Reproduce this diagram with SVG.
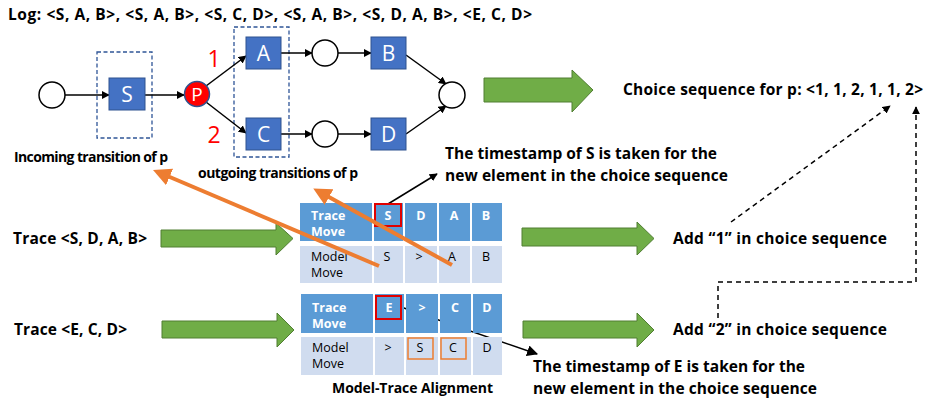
<svg xmlns="http://www.w3.org/2000/svg" width="928" height="402" viewBox="0 0 928 402">
<defs>
<style>
.t{font-family:"Open Sans","Liberation Sans",sans-serif;font-weight:bold;fill:#000}
.b{font-size:15.5px}
.s{font-size:14px}
.node{fill:#4472C4;stroke:#2F528F;stroke-width:1}
.nt{font-family:"Open Sans","Liberation Sans",sans-serif;font-size:21px;fill:#fff;text-anchor:middle}
.pl{fill:#fff;stroke:#000;stroke-width:1.5}
.dash{fill:none;stroke:#2F5597;stroke-width:1.3;stroke-dasharray:4 2.5}
.e{stroke:#000;stroke-width:1.5;fill:none}
.or{stroke:#ED7D31;stroke-width:4;fill:none}
.dd{stroke:#000;stroke-width:1.5;fill:none;stroke-dasharray:5 4}
.tr{fill:#5B9BD5}
.mr{fill:#D0DCEF}
.ct{font-family:"Open Sans","Liberation Sans",sans-serif;font-size:12.5px}
.cw{fill:#fff;font-weight:bold}
.ck{fill:#000}
.ga{fill:#70AD47;stroke:#507E32;stroke-width:1}
.red{font-family:"Open Sans","Liberation Sans",sans-serif;font-size:23px;fill:#FF0000;text-anchor:middle}
</style>
<marker id="ah" viewBox="0 0 10 10" refX="9" refY="5" markerWidth="8" markerHeight="8" markerUnits="userSpaceOnUse" orient="auto"><path d="M0,0 L10,5 L0,10 z" fill="#000"/></marker>
<marker id="ahs" viewBox="0 0 10 10" refX="9" refY="5" markerWidth="11" markerHeight="11" markerUnits="userSpaceOnUse" orient="auto"><path d="M0,0 L10,5 L0,10 z" fill="#000"/></marker>
<marker id="oh" viewBox="0 0 10 10" refX="7" refY="5" markerWidth="4.5" markerHeight="4.5" orient="auto"><path d="M0,0 L10,5 L0,10 z" fill="#ED7D31"/></marker>
</defs>
<rect width="928" height="402" fill="#fff"/>

<text class="t b" x="8" y="20" textLength="524">Log: &lt;S, A, B&gt;, &lt;S, A, B&gt;, &lt;S, C, D&gt;, &lt;S, A, B&gt;, &lt;S, D, A, B&gt;, &lt;E, C, D&gt;</text>

<!-- dashed groupings -->
<rect class="dash" x="97" y="52" width="55" height="86"/>
<rect class="dash" x="234" y="27" width="55" height="130"/>

<g id="connectors">
<line class="e" x1="65" y1="95" x2="109" y2="95" marker-end="url(#ah)"/>
<line class="e" x1="145" y1="95" x2="184" y2="95" marker-end="url(#ah)"/>
<line class="e" x1="206" y1="86" x2="246" y2="56" marker-end="url(#ah)"/>
<line class="e" x1="206" y1="102" x2="246" y2="133" marker-end="url(#ah)"/>
<line class="e" x1="281" y1="53" x2="312" y2="53" marker-end="url(#ah)"/>
<line class="e" x1="338" y1="53" x2="371" y2="53" marker-end="url(#ah)"/>
<line class="e" x1="281" y1="134" x2="312" y2="134" marker-end="url(#ah)"/>
<line class="e" x1="338" y1="134" x2="371" y2="134" marker-end="url(#ah)"/>
<line class="e" x1="406" y1="55" x2="446" y2="84" marker-end="url(#ah)"/>
<line class="e" x1="406" y1="134" x2="446" y2="106" marker-end="url(#ah)"/>
<line class="e" x1="388" y1="204" x2="437" y2="174" marker-end="url(#ah)"/>
<line class="e" x1="401" y1="307" x2="537" y2="354" marker-end="url(#ahs)"/>
<line class="dd" x1="731" y1="222" x2="890" y2="106" marker-end="url(#ah)"/>
<polyline class="dd" points="718,318 718,282 916,282 916,107" marker-end="url(#ah)"/>
</g>

<g id="p_start"><circle class="pl" cx="52" cy="95" r="13"/></g>
<g id="t_S"><rect class="node" x="109" y="78" width="36" height="32"/><text class="nt" x="127" y="101.5">S</text></g>
<g id="p_P"><circle cx="197" cy="94" r="12.5" fill="#FF0000" stroke="#2F528F" stroke-width="1.5"/><text x="197" y="101" text-anchor="middle" font-family="Open Sans,Liberation Sans,sans-serif" font-size="19" fill="#fff">P</text></g>
<g id="t_A"><rect class="node" x="246" y="37" width="35" height="32"/><text class="nt" x="263.5" y="60.5">A</text></g>
<g id="t_C"><rect class="node" x="246" y="118" width="35" height="32"/><text class="nt" x="263.5" y="141.5">C</text></g>
<g id="p_A"><circle class="pl" cx="325" cy="53" r="13"/></g>
<g id="p_C"><circle class="pl" cx="325" cy="134" r="13"/></g>
<g id="t_B"><rect class="node" x="371" y="37" width="35" height="32"/><text class="nt" x="388.5" y="60.5">B</text></g>
<g id="t_D"><rect class="node" x="371" y="118" width="35" height="32"/><text class="nt" x="388.5" y="141.5">D</text></g>
<g id="p_end"><circle class="pl" cx="452" cy="95" r="13"/></g>

<text class="red" x="214" y="67">1</text>
<text class="red" x="214" y="143">2</text>

<text class="t s" x="14" y="162" textLength="154">Incoming transition of p</text>
<text class="t s" x="198" y="178" textLength="160">outgoing transitions of p</text>

<!-- green arrows -->
<g id="ga_top"><path class="ga" d="M484,78 H572 V70 L593,90 L572,112 V102 H484 Z"/></g>
<g id="ga_t1"><path class="ga" d="M161,230 H276 V223 L293,238.5 L276,255 V247 H161 Z"/></g>
<g id="ga_t2"><path class="ga" d="M162,321 H277 V313 L294,330 L277,347 V338 H162 Z"/></g>
<g id="ga_r1"><path class="ga" d="M522,228 H637 V222 L654,238.5 L637,255 V246 H522 Z"/></g>
<g id="ga_r2"><path class="ga" d="M523,321 H637 V313 L654,330 L637,347 V338 H523 Z"/></g>

<text class="t b" x="623" y="95" textLength="300">Choice sequence for p: &lt;1, 1, 2, 1, 1, 2&gt;</text>
<text class="t b" x="445" y="159" textLength="272">The timestamp of S is taken for the</text>
<text class="t b" x="445" y="181" textLength="283">new element in the choice sequence</text>
<text class="t b" x="13" y="244" textLength="134">Trace &lt;S, D, A, B&gt;</text>
<text class="t b" x="14" y="335" textLength="113">Trace &lt;E, C, D&gt;</text>
<text class="t b" x="673" y="244" textLength="214">Add “1” in choice sequence</text>
<text class="t b" x="673" y="335" textLength="214">Add “2” in choice sequence</text>
<text class="t b" x="533" y="372" textLength="272">The timestamp of E is taken for the</text>
<text class="t b" x="533" y="394" textLength="284">new element in the choice sequence</text>

<!-- alignment table 1 -->
<g id="table1">
<rect class="tr" x="300" y="203" width="72" height="38"/>
<rect class="tr" x="374" y="203" width="29" height="38"/>
<rect class="tr" x="405" y="203" width="32" height="38"/>
<rect class="tr" x="439" y="203" width="31" height="38"/>
<rect class="tr" x="472" y="203" width="30" height="38"/>
<rect class="mr" x="300" y="246" width="72" height="37"/>
<rect class="mr" x="374" y="246" width="29" height="37"/>
<rect class="mr" x="405" y="246" width="32" height="37"/>
<rect class="mr" x="439" y="246" width="31" height="37"/>
<rect class="mr" x="472" y="246" width="30" height="37"/>
<text class="ct cw" x="311" y="220">Trace</text>
<text class="ct cw" x="311" y="236">Move</text>
<text class="ct cw" x="388" y="220" text-anchor="middle">S</text>
<text class="ct cw" x="421" y="220" text-anchor="middle">D</text>
<text class="ct cw" x="454" y="220" text-anchor="middle">A</text>
<text class="ct cw" x="486" y="220" text-anchor="middle">B</text>
<text class="ct ck" x="311" y="261">Model</text>
<text class="ct ck" x="311" y="277">Move</text>
<text class="ct ck" x="387" y="261" text-anchor="middle">S</text>
<text class="ct ck" x="419" y="261" text-anchor="middle">&gt;</text>
<text class="ct ck" x="452" y="261" text-anchor="middle">A</text>
<text class="ct ck" x="486" y="261" text-anchor="middle">B</text>
<rect x="375" y="204" width="26" height="22" fill="none" stroke="#E00000" stroke-width="2"/>
</g>

<!-- alignment table 2 -->
<g id="table2">
<rect class="tr" x="301" y="294" width="72" height="39"/>
<rect class="tr" x="375" y="294" width="29" height="39"/>
<rect class="tr" x="406" y="294" width="32" height="39"/>
<rect class="tr" x="440" y="294" width="31" height="39"/>
<rect class="tr" x="473" y="294" width="29" height="39"/>
<rect class="mr" x="301" y="337" width="72" height="38"/>
<rect class="mr" x="375" y="337" width="29" height="38"/>
<rect class="mr" x="406" y="337" width="32" height="38"/>
<rect class="mr" x="440" y="337" width="31" height="38"/>
<rect class="mr" x="473" y="337" width="29" height="38"/>
<text class="ct cw" x="312" y="312">Trace</text>
<text class="ct cw" x="312" y="328">Move</text>
<text class="ct cw" x="389" y="312" text-anchor="middle">E</text>
<text class="ct cw" x="422" y="312" text-anchor="middle">&gt;</text>
<text class="ct cw" x="455" y="312" text-anchor="middle">C</text>
<text class="ct cw" x="487" y="312" text-anchor="middle">D</text>
<text class="ct ck" x="312" y="352">Model</text>
<text class="ct ck" x="312" y="368">Move</text>
<text class="ct ck" x="388" y="352" text-anchor="middle">&gt;</text>
<text class="ct ck" x="420" y="352" text-anchor="middle">S</text>
<text class="ct ck" x="453" y="352" text-anchor="middle">C</text>
<text class="ct ck" x="487" y="352" text-anchor="middle">D</text>
<rect x="376" y="296" width="25" height="23" fill="none" stroke="#E00000" stroke-width="2"/>
<rect x="408" y="338" width="25" height="21" fill="none" stroke="#ED7D31" stroke-width="1.5"/>
<rect x="441" y="338" width="25" height="21" fill="none" stroke="#ED7D31" stroke-width="1.5"/>
</g>
<text class="t s" x="332" y="393" textLength="161">Model-Trace Alignment</text>

<g id="orange_connectors">
<line class="or" x1="379" y1="266" x2="158" y2="172" marker-end="url(#oh)"/>
<line class="or" x1="452" y1="265" x2="318" y2="191" marker-end="url(#oh)"/>
</g>
</svg>
